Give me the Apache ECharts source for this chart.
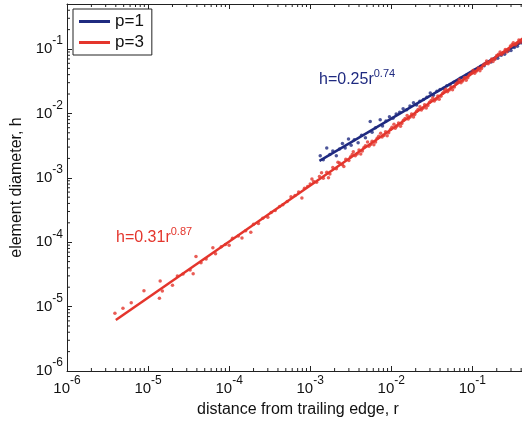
<!DOCTYPE html>
<html>
<head>
<meta charset="utf-8">
<script src="https://cdn.jsdelivr.net/npm/echarts@6/dist/echarts.min.js"></script>
<style>
html, body { margin: 0; padding: 0; background: #fff; }
#chart { width: 522px; height: 421px; }
</style>
</head>
<body>
<div id="chart"></div>
<script>
// axis ranges (real units, both axes log10)
var xRange = [1e-6, 0.5];
var yRange = [1e-6, 0.5];
var decadeExponents = [-6, -5, -4, -3, -2, -1];

var seriesNames = ['p=1', 'p=3'];
var fitText = ['h=0.25r', 'h=0.31r'];
var fitPower = ['0.74', '0.87'];

// fitted power laws, end points only
var fitP1 = [[1.3e-3, 1.83e-3], [0.5, 0.150]];
var fitP3 = [[4e-6, 6.2e-6], [0.5, 0.170]];

// measured element sizes [r, h], p = 1
var pointsP1 = [
    [1.33e-3, 2.2e-3], [1.45e-3, 1.9e-3], [1.6e-3, 2.9e-3], [1.75e-3, 2.3e-3], [1.9e-3, 2.6e-3],
    [2.1e-3, 2.2e-3], [2.3e-3, 2.8e-3], [2.5e-3, 3.4e-3], [2.7e-3, 2.9e-3], [2.97e-3, 4.0e-3],
    [3.2e-3, 3.2e-3], [3.5e-3, 3.9e-3], [3.9e-3, 3.5e-3], [4.3e-3, 4.6e-3], [4.8e-3, 4.2e-3],
    [5.5e-3, 7.5e-3], [5.8e-3, 5.1e-3], [6.4e-3, 6.0e-3], [7.3e-3, 8.0e-3], [7.8e-3, 6.4e-3],
    [8.6e-3, 7.6e-3], [9.5e-3, 8.9e-3], [1.05e-2, 8.4e-3], [1.15e-2, 9.8e-3], [1.27e-2, 1.04e-2],
    [1.4e-2, 1.18e-2], [1.55e-2, 1.14e-2], [1.7e-2, 1.3e-2], [1.88e-2, 1.46e-2], [2.05e-2, 1.35e-2],
    [2.25e-2, 1.55e-2], [2.5e-2, 1.65e-2], [2.75e-2, 1.78e-2], [3.03e-2, 2.08e-2], [3.3e-2, 1.92e-2],
    [3.65e-2, 2.2e-2], [4.0e-2, 2.35e-2], [4.4e-2, 2.45e-2], [4.85e-2, 2.7e-2], [5.3e-2, 2.8e-2],
    [5.9e-2, 3.05e-2], [6.5e-2, 3.15e-2], [7.1e-2, 3.5e-2], [7.8e-2, 3.6e-2], [8.6e-2, 4.0e-2],
    [9.5e-2, 4.2e-2], [0.105, 4.7e-2], [0.115, 4.8e-2], [0.127, 5.4e-2], [0.14, 5.5e-2],
    [0.154, 6.1e-2], [0.17, 6.3e-2], [0.187, 7.0e-2], [0.206, 7.2e-2], [0.227, 8.0e-2],
    [0.25, 8.3e-2], [0.275, 9.2e-2], [0.3, 9.5e-2], [0.33, 0.106], [0.36, 0.11],
    [0.4, 0.125], [0.44, 0.128], [0.48, 0.14]
];

// measured element sizes [r, h], p = 3
var pointsP3 = [
    [3.9e-6, 7.9e-6], [4.9e-6, 9.4e-6], [6.2e-6, 1.15e-5], [8.9e-6, 1.77e-5], [1.38e-5, 1.35e-5],
    [1.41e-5, 2.5e-5], [1.5e-5, 1.75e-5], [2.0e-5, 2.15e-5], [2.3e-5, 3.0e-5], [2.7e-5, 3.2e-5],
    [3.3e-5, 3.7e-5], [3.6e-5, 3.25e-5], [3.9e-5, 6.0e-5], [4.5e-5, 4.8e-5], [5.2e-5, 5.5e-5],
    [6.3e-5, 8.2e-5], [6.8e-5, 6.6e-5], [8.0e-5, 8.5e-5], [9.0e-5, 9.2e-5], [1.0e-4, 9.0e-5],
    [1.1e-4, 1.15e-4], [1.3e-4, 1.25e-4], [1.44e-4, 1.16e-4], [1.6e-4, 1.5e-4], [1.85e-4, 1.43e-4],
    [2.0e-4, 1.9e-4], [2.3e-4, 1.95e-4], [2.6e-4, 2.35e-4], [3.0e-4, 2.45e-4], [3.3e-4, 2.9e-4],
    [3.7e-4, 3.1e-4], [4.2e-4, 3.6e-4], [4.6e-4, 3.8e-4], [5.2e-4, 4.3e-4], [5.8e-4, 5.1e-4],
    [6.5e-4, 5.3e-4], [7.2e-4, 6.0e-4], [7.9e-4, 4.85e-4], [8.5e-4, 6.9e-4], [9.3e-4, 7.3e-4],
    [1.0e-3, 8.0e-4], [1.1e-3, 8.8e-4], [1.2e-3, 8.5e-4], [1.3e-3, 1.05e-3], [1.45e-3, 9.8e-4],
    [1.6e-3, 1.22e-3], [1.75e-3, 1.15e-3], [1.9e-3, 1.45e-3], [2.1e-3, 1.38e-3], [2.3e-3, 1.7e-3],
    [2.5e-3, 1.6e-3], [2.75e-3, 1.95e-3], [3.0e-3, 1.85e-3], [3.15e-3, 2.12e-3], [3.3e-3, 2.3e-3],
    [3.6e-3, 2.2e-3], [3.8e-3, 2.35e-3], [4.0e-3, 2.7e-3], [4.4e-3, 2.6e-3], [4.6e-3, 2.95e-3],
    [4.8e-3, 3.15e-3], [5.3e-3, 3.1e-3], [5.55e-3, 3.3e-3], [5.8e-3, 3.7e-3], [6.4e-3, 3.6e-3],
    [6.7e-3, 4.1e-3], [7.0e-3, 4.4e-3], [7.7e-3, 4.3e-3], [8.1e-3, 4.55e-3], [8.5e-3, 5.2e-3],
    [9.3e-3, 5.0e-3], [9.8e-3, 5.7e-3], [1.02e-2, 6.1e-3], [1.12e-2, 5.9e-3], [1.17e-2, 6.3e-3],
    [1.23e-2, 7.1e-3], [1.35e-2, 7.0e-3], [1.41e-2, 7.85e-3], [1.48e-2, 8.3e-3], [1.62e-2, 8.2e-3],
    [1.7e-2, 8.7e-3], [1.78e-2, 9.8e-3], [1.95e-2, 9.6e-3], [2.05e-2, 1.08e-2], [2.14e-2, 1.15e-2],
    [2.35e-2, 1.13e-2], [2.46e-2, 1.2e-2], [2.58e-2, 1.36e-2], [2.83e-2, 1.33e-2], [2.96e-2, 1.49e-2],
    [3.1e-2, 1.59e-2], [3.4e-2, 1.56e-2], [3.57e-2, 1.66e-2], [3.75e-2, 1.87e-2], [4.1e-2, 1.84e-2],
    [4.3e-2, 2.06e-2], [4.5e-2, 2.2e-2], [4.95e-2, 2.17e-2], [5.2e-2, 2.3e-2], [5.45e-2, 2.58e-2],
    [6.0e-2, 2.56e-2], [6.3e-2, 2.88e-2], [6.6e-2, 3.05e-2], [7.25e-2, 3.0e-2], [7.6e-2, 3.2e-2],
    [8.0e-2, 3.6e-2], [8.8e-2, 3.57e-2], [9.2e-2, 4.0e-2], [9.7e-2, 4.25e-2], [0.107, 4.22e-2],
    [0.112, 4.5e-2], [0.118, 5.05e-2], [0.13, 5.0e-2], [0.136, 5.65e-2], [0.143, 5.95e-2],
    [0.157, 5.9e-2], [0.165, 6.3e-2], [0.173, 7.0e-2], [0.19, 6.95e-2], [0.2, 7.9e-2],
    [0.21, 8.3e-2], [0.23, 8.2e-2], [0.242, 8.75e-2], [0.255, 9.8e-2], [0.28, 9.7e-2],
    [0.295, 0.111], [0.31, 0.117], [0.34, 0.115], [0.357, 0.122], [0.375, 0.138],
    [0.41, 0.136], [0.43, 0.153], [0.45, 0.16],
    [1.05e-3, 9.6e-4], [1.38e-3, 1.2e-3], [1.68e-3, 1.0e-3], [2.2e-3, 1.75e-3], [2.6e-3, 1.5e-3],
    [3.4e-3, 2.55e-3], [4.2e-3, 2.35e-3], [5.1e-3, 3.6e-3], [6.1e-3, 3.25e-3], [7.4e-3, 4.9e-3],
    [8.9e-3, 4.5e-3], [1.08e-2, 6.8e-3], [1.3e-2, 6.3e-3], [1.57e-2, 9.3e-3], [1.88e-2, 8.8e-3],
    [2.26e-2, 1.27e-2], [2.7e-2, 1.21e-2], [3.25e-2, 1.74e-2], [3.9e-2, 1.66e-2], [4.7e-2, 2.38e-2],
    [5.7e-2, 2.32e-2], [6.9e-2, 3.32e-2], [8.4e-2, 3.28e-2], [0.102, 4.65e-2], [0.124, 4.6e-2],
    [0.15, 6.5e-2], [0.18, 6.4e-2], [0.22, 9.0e-2], [0.265, 9.0e-2], [0.32, 0.125],
    [0.39, 0.127]
];

var blue = '#1f2a80';
var red = '#e4352c';
var font = 'Liberation Sans, Arial, sans-serif';

function lg(p) { return [Math.log10(p[0]), Math.log10(p[1])]; }

var xExt = [Math.log10(xRange[0]), Math.log10(xRange[1])];
var yExt = [Math.log10(yRange[0]), Math.log10(yRange[1])];

// minor tick positions (2..9 in every decade)
var minorX = [], minorY = [];
decadeExponents.forEach(function (n) {
    for (var k = 2; k <= 9; k++) {
        var v = n + Math.log10(k);
        if (v < xExt[1]) minorX.push([v, 0]);
        if (v < yExt[1]) minorY.push([0, v]);
    }
});

function powLabel(v) {
    if (Math.abs(v - Math.round(v)) > 1e-6) return '';
    return '{b|10}{s|' + Math.round(v) + '}';
}
var labelRich = {
    b: { fontSize: 15, fontFamily: font, color: '#111', lineHeight: 28, verticalAlign: 'middle' },
    s: { fontSize: 12, fontFamily: font, color: '#111', lineHeight: 12, verticalAlign: 'top' }
};

function makeAxis(pos, ext, showLabel, name) {
    var a = {
        type: 'value',
        position: pos,
        min: ext[0],
        max: ext[1],
        interval: 1,
        splitLine: { show: false },
        axisLine: { show: true, onZero: false, lineStyle: { color: '#222', width: 1 } },
        axisTick: { show: true, inside: true, length: 5, lineStyle: { color: '#222' } },
        axisLabel: { show: showLabel, formatter: powLabel, rich: labelRich, showMaxLabel: false }
    };
    if (name) {
        a.name = name;
        a.nameLocation = 'middle';
        a.nameTextStyle = { fontSize: 16, fontFamily: font, color: '#111' };
    }
    return a;
}

var xBottom = makeAxis('bottom', xExt, true, 'distance from trailing edge, r');
xBottom.nameGap = 25;
xBottom.axisLabel.margin = 4;
var yLeft = makeAxis('left', yExt, true, 'element diameter, h');
yLeft.nameGap = 40;
yLeft.axisLabel.margin = 4;

function annRich(c) {
    return {
        b: { fontSize: 16, fontFamily: font, fill: c, lineHeight: 24, verticalAlign: 'middle' },
        s: { fontSize: 11, fontFamily: font, fill: c, lineHeight: 12, verticalAlign: 'top' }
    };
}

var chart = echarts.init(document.getElementById('chart'));
var option = {
    animation: false,
    backgroundColor: '#fff',
    grid: { left: 67, top: 4, right: -7, bottom: 50, containLabel: false, outerBoundsMode: 'none' },
    xAxis: [xBottom, makeAxis('top', xExt, false)],
    yAxis: [yLeft, makeAxis('right', yExt, false)],
    legend: {
        left: 73,
        top: 9,
        orient: 'vertical',
        data: [{ name: seriesNames[0], icon: 'rect' }, { name: seriesNames[1], icon: 'rect' }],
        itemWidth: 31,
        itemHeight: 3,
        itemGap: 4,
        padding: [4, 8, 4, 6],
        borderColor: '#222',
        borderWidth: 1,
        borderRadius: 0,
        backgroundColor: '#fff',
        textStyle: { fontSize: 17, fontFamily: font, color: '#111', lineHeight: 17 }
    },
    graphic: [
        {
            type: 'text', left: 319, top: 68, z: 100,
            style: { text: '{b|' + fitText[0] + '}{s|' + fitPower[0] + '}', rich: annRich(blue) }
        },
        {
            type: 'text', left: 116, top: 226, z: 100,
            style: { text: '{b|' + fitText[1] + '}{s|' + fitPower[1] + '}', rich: annRich(red) }
        }
    ],
    series: [
        {
            name: 'minor x', type: 'custom', silent: true, z: 5,
            data: minorX,
            renderItem: function (params, api) {
                var b = api.coord([api.value(0), yExt[0]]);
                var t = api.coord([api.value(0), yExt[1]]);
                return {
                    type: 'group',
                    children: [
                        { type: 'line', shape: { x1: b[0], y1: b[1], x2: b[0], y2: b[1] - 3 }, style: { stroke: '#222', lineWidth: 1 } },
                        { type: 'line', shape: { x1: t[0], y1: t[1], x2: t[0], y2: t[1] + 3 }, style: { stroke: '#222', lineWidth: 1 } }
                    ]
                };
            }
        },
        {
            name: 'minor y', type: 'custom', silent: true, z: 5,
            data: minorY,
            renderItem: function (params, api) {
                var l = api.coord([xExt[0], api.value(1)]);
                var r = api.coord([xExt[1], api.value(1)]);
                return {
                    type: 'group',
                    children: [
                        { type: 'line', shape: { x1: l[0], y1: l[1], x2: l[0] + 3, y2: l[1] }, style: { stroke: '#222', lineWidth: 1 } },
                        { type: 'line', shape: { x1: r[0], y1: r[1], x2: r[0] - 3, y2: r[1] }, style: { stroke: '#222', lineWidth: 1 } }
                    ]
                };
            }
        },
        {
            name: seriesNames[0], type: 'line', data: fitP1.map(lg),
            symbol: 'none', color: blue, lineStyle: { width: 2.5, color: blue }, z: 2
        },
        {
            name: 'p=1 points', type: 'scatter', data: pointsP1.map(lg),
            symbolSize: 3.5, itemStyle: { color: blue }, z: 3
        },
        {
            name: 'p=3 points', type: 'scatter', data: pointsP3.map(lg),
            symbolSize: 3.5, itemStyle: { color: red }, z: 3
        },
        {
            name: seriesNames[1], type: 'line', data: fitP3.map(lg),
            symbol: 'none', color: red, lineStyle: { width: 2.5, color: red }, z: 4
        }
    ]
};
chart.setOption(option);
</script>
</body>
</html>
